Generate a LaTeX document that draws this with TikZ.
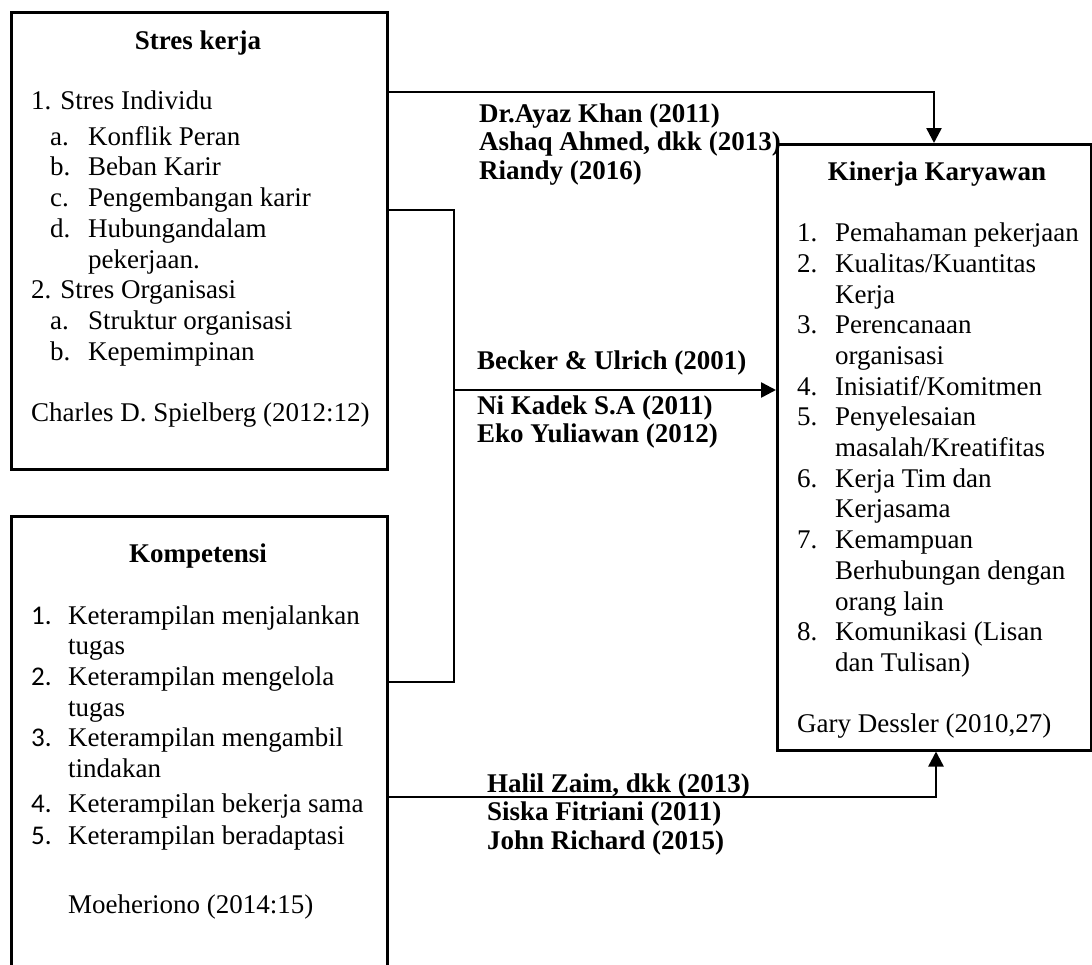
\documentclass[tikz,border=0pt]{standalone}
\usepackage{fontspec}
\setmainfont{Liberation Serif}
\newfontfamily\calfont{Carlito}
\usepackage{tikz}
\usetikzlibrary{arrows.meta}
\usetikzlibrary{positioning}

\begin{document}
\begin{tikzpicture}[x=1pt,y=-1pt,
  >={Triangle[length=15pt,width=15pt]},
  box/.style={draw,line width=2.5pt,inner sep=0pt,anchor=north west},
  txt/.style={inner sep=0pt,anchor=base west,font=\fontsize{27}{30.7}\selectfont},
  ttl/.style={inner sep=0pt,anchor=base,font=\fontsize{27}{30.7}\selectfont\bfseries},
  ref/.style={inner sep=0pt,anchor=base west,font=\fontsize{27}{28.6}\selectfont\bfseries},
  link/.style={line width=2.5pt,->}]
\clip (0,0) rectangle (1092,964);

% boxes
\node[box,minimum width=376pt,minimum height=457pt] at (10,11) (stres) {};
\node[box,minimum width=376pt,minimum height=480pt] at (10,515) (komp) {};
\node[box,minimum width=314pt,minimum height=606pt] at (776,143) (kinerja) {};

\node[ttl] at (198,49) (stresT) {Stres kerja};
\node[txt] at (31,109) (stresL) {\begin{tabular}[t]{@{}l@{}}
1. Stres Individu\\[5.5pt]
\hspace*{19pt}\makebox[38pt][l]{a.}Konflik Peran\\
\hspace*{19pt}\makebox[38pt][l]{b.}Beban Karir\\
\hspace*{19pt}\makebox[38pt][l]{c.}Pengembangan karir\\
\hspace*{19pt}\makebox[38pt][l]{d.}Hubungandalam\\
\hspace*{57pt}pekerjaan.\\
2. Stres Organisasi\\
\hspace*{19pt}\makebox[38pt][l]{a.}Struktur organisasi\\
\hspace*{19pt}\makebox[38pt][l]{b.}Kepemimpinan\\[31pt]
Charles D. Spielberg (2012:12)
\end{tabular}};

\node[ttl] at (198,562) (kompT) {Kompetensi};
\node[txt] at (31,624) (kompL) {\begin{tabular}[t]{@{}l@{}}
\makebox[37pt][l]{\calfont 1.}Keterampilan menjalankan\\
\hspace*{37pt}tugas\\
\makebox[37pt][l]{\calfont 2.}Keterampilan mengelola\\
\hspace*{37pt}tugas\\
\makebox[37pt][l]{\calfont 3.}Keterampilan mengambil\\
\hspace*{37pt}tindakan\\[3.8pt]
\makebox[37pt][l]{\calfont 4.}Keterampilan bekerja sama\\[1.3pt]
\makebox[37pt][l]{\calfont 5.}Keterampilan beradaptasi\\[39pt]
\hspace*{37pt}Moeheriono (2014:15)
\end{tabular}};

\node[ttl] at (937,180.5) (kinT) {Kinerja Karyawan};
\node[txt] at (797,241.6) (kinL) {\begin{tabular}[t]{@{}l@{}}
\makebox[38pt][l]{1.}Pemahaman pekerjaan\\
\makebox[38pt][l]{2.}Kualitas/Kuantitas\\
\hspace*{38pt}Kerja\\
\makebox[38pt][l]{3.}Perencanaan\\
\hspace*{38pt}organisasi\\
\makebox[38pt][l]{4.}Inisiatif/Komitmen\\
\makebox[38pt][l]{5.}Penyelesaian\\
\hspace*{38pt}masalah/Kreatifitas\\
\makebox[38pt][l]{6.}Kerja Tim dan\\
\hspace*{38pt}Kerjasama\\
\makebox[38pt][l]{7.}Kemampuan\\
\hspace*{38pt}Berhubungan dengan\\
\hspace*{38pt}orang lain\\
\makebox[38pt][l]{8.}Komunikasi (Lisan\\
\hspace*{38pt}dan Tulisan)\\[30pt]
Gary Dessler (2010,27)
\end{tabular}};

% references
\node[ref] at (479,122) (src1) {\begin{tabular}[t]{@{}l@{}}Dr.Ayaz Khan (2011)\\Ashaq Ahmed, dkk (2013)\\Riandy (2016)\end{tabular}};
\node[ref] at (477,369) (src2) {Becker \& Ulrich (2001)};
\node[ref] at (477,414) (src3) {\begin{tabular}[t]{@{}l@{}}Ni Kadek S.A (2011)\\Eko Yuliawan (2012)\end{tabular}};
\node[ref] at (487,792) (src4) {\begin{tabular}[t]{@{}l@{}}Halil Zaim, dkk (2013)\\Siska Fitriani (2011)\\John Richard (2015)\end{tabular}};

% connectors
\coordinate (top) at (934,92);
\coordinate (s1) at (454,210);
\coordinate (k1) at (454,682);
\coordinate (hub) at (454,390);
\coordinate (bot) at (936,797);
\draw[link] (stres.east |- top) -- (top) -- (top |- kinerja.north);
\draw[line width=1.2pt] (stres.east |- s1) -- (s1) -- (k1) -- (komp.east |- k1);
\draw[link] (hub) -- (kinerja.west |- hub);
\draw[link] (komp.east |- bot) -- (bot) -- (bot |- kinerja.south);
\end{tikzpicture}
\end{document}
